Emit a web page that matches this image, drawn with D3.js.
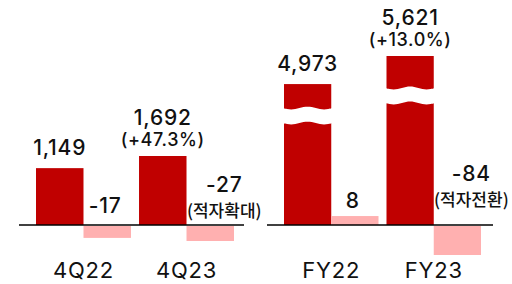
<!DOCTYPE html>
<html>
<head>
<meta charset="utf-8">
<script src="https://cdn.jsdelivr.net/npm/d3@7"></script>
<style>
  body { margin: 0; background: #fff; }
  text { font-family: Inter, "Noto Sans", sans-serif; fill: #111; }
  .note { font-family: "Noto Sans CJK KR", sans-serif; }
</style>
</head>
<body>
<div id="chart"></div>
<script>
/**
 * DATA
 * */
const quarterLabels = ["4Q22", "4Q23"];
const quarterRevenue = [1149, 1692];
const quarterProfit = [-17, -27];
const quarterGrowth = [null, 47.3];
const quarterNote = [null, "(적자확대)"];

const yearLabels = ["FY22", "FY23"];
const yearRevenue = [4973, 5621];
const yearProfit = [8, -84];
const yearGrowth = [null, 13.0];
const yearNote = [null, "(적자전환)"];

/**
 * CONSTANTS
 * */
const width = 512,
  height = 284,
  zeroY = 225;
const red = "#c00000",
  pink = "#ffb0b0";

const svg = d3.select("#chart")
  .append("svg")
  .attr("width", width)
  .attr("height", height);

// layout per panel (left: quarters, right: full years w/ broken bars)
const panels = [
  {
    labels: quarterLabels, revenue: quarterRevenue, profit: quarterProfit,
    growth: quarterGrowth, note: quarterNote,
    range: [36, 234], line: [19, 244], noteLift: 8,
    yRev: d3.scaleSqrt().domain([0, 1692]).range([zeroY, 156]),
    hProfit: d3.scaleSqrt().domain([0, 27]).range([0, 15]),
    breaks: null
  },
  {
    labels: yearLabels, revenue: yearRevenue, profit: yearProfit,
    growth: yearGrowth, note: yearNote,
    range: [284, 481], line: [267, 493], noteLift: 19,
    // axis is broken, so the scale doesn't start at zero
    yRev: d3.scaleLinear().domain([1720, 5621]).range([zeroY, 56]),
    hProfit: d3.scaleSqrt().domain([0, 84]).range([0, 29]),
    breaks: [24, 32] // px below the bar top where the wavy cut sits
  }
];

// plain hyphen for negatives, like the slide
const fmt = v => d3.format(",")(v).replace("\u2212", "-");

panels.forEach(p => {
  const x = d3.scaleBand()
    .domain(p.labels)
    .range(p.range)
    .paddingInner(0.078);
  const sub = d3.scaleBand()
    .domain(["rev", "op"])
    .range([0, x.bandwidth()]);

  const g = svg.append("g");
  const rows = p.labels.map((d, i) => ({
    label: d, rev: p.revenue[i], op: p.profit[i],
    growth: p.growth[i], note: p.note[i]
  }));

  // revenue bars
  g.selectAll("rect.rev")
    .data(rows)
    .join("rect")
    .attr("class", "rev")
    .attr("x", d => x(d.label) + sub("rev"))
    .attr("width", sub.bandwidth())
    .attr("y", d => p.yRev(d.rev))
    .attr("height", d => zeroY - p.yRev(d.rev))
    .attr("fill", red);

  // operating profit bars
  g.selectAll("rect.op")
    .data(rows)
    .join("rect")
    .attr("class", "op")
    .attr("x", d => x(d.label) + sub("op"))
    .attr("width", sub.bandwidth())
    .attr("y", d => d.op >= 0 ? zeroY - p.hProfit(d.op) : zeroY + 1)
    .attr("height", d => p.hProfit(Math.abs(d.op)))
    .attr("fill", pink);

  // wavy break on the big bars
  if (p.breaks) {
    const wave = (x0, x1, y) => d3.range(0, 13).map(k => {
      const xx = x0 + (x1 - x0) * k / 12;
      return [xx, y + 1.6 * Math.sin((k / 12) * Math.PI * 3)];
    });
    g.selectAll("path.brk")
      .data(rows)
      .join("path")
      .attr("class", "brk")
      .attr("fill", "#fff")
      .attr("d", (d, i) => {
        const x0 = x(d.label) + sub("rev") - 1,
          x1 = x0 + sub.bandwidth() + 2,
          y = p.yRev(d.rev) + p.breaks[i];
        const top = wave(x0, x1, y),
          bot = wave(x0, x1, y + 15).reverse();
        return d3.line().curve(d3.curveBasis)(top) + "L" +
          d3.line().curve(d3.curveBasis)(bot).slice(1) + "Z";
      });
  }

  // zero line
  g.append("line")
    .attr("x1", p.line[0]).attr("x2", p.line[1])
    .attr("y1", zeroY).attr("y2", zeroY)
    .attr("stroke", "#000")
    .attr("stroke-width", 1.5);

  // revenue labels (+ growth)
  rows.forEach(d => {
    const cx = x(d.label) + sub("rev") + sub.bandwidth() / 2,
      top = p.yRev(d.rev);
    if (d.growth != null) {
      g.append("text")
        .attr("x", cx).attr("y", top - 10)
        .attr("text-anchor", "middle")
        .attr("font-size", 18)
        .attr("font-weight", 500)
        .attr("letter-spacing", 0.6)
        .text(`(+${d.growth.toFixed(1)}%)`);
      g.append("text")
        .attr("x", cx).attr("y", top - 31)
        .attr("text-anchor", "middle")
        .attr("font-size", 21)
        .attr("font-weight", 500)
        .attr("letter-spacing", 0.8)
        .text(fmt(d.rev));
    } else {
      g.append("text")
        .attr("x", cx).attr("y", top - 13)
        .attr("text-anchor", "middle")
        .attr("font-size", 21)
        .attr("font-weight", 500)
        .attr("letter-spacing", 0.8)
        .text(fmt(d.rev));
    }
  });

  // profit labels (+ note)
  rows.forEach(d => {
    const cx = x(d.label) + sub("op") + sub.bandwidth() / 2;
    const base = d.op >= 0 ? zeroY - p.hProfit(d.op) : zeroY;
    if (d.note) {
      g.append("text")
        .attr("class", "note")
        .attr("x", cx + 14).attr("y", base - p.noteLift)
        .attr("text-anchor", "middle")
        .attr("font-size", 17)
        .attr("font-weight", 500)
        .text(d.note);
      g.append("text")
        .attr("x", cx + 14).attr("y", base - p.noteLift - 25)
        .attr("text-anchor", "middle")
        .attr("font-size", 21)
        .attr("font-weight", 500)
        .attr("letter-spacing", 0.8)
        .text(fmt(d.op));
    } else {
      g.append("text")
        .attr("x", cx - 2).attr("y", base - (d.op >= 0 ? 8 : 12))
        .attr("text-anchor", "middle")
        .attr("font-size", 21)
        .attr("font-weight", 500)
        .attr("letter-spacing", 0.8)
        .text(fmt(d.op));
    }
  });

  // category labels
  g.selectAll("text.cat")
    .data(rows)
    .join("text")
    .attr("class", "cat")
    .attr("x", d => x(d.label) + x.bandwidth() / 2)
    .attr("y", 278)
    .attr("text-anchor", "middle")
    .attr("font-size", 22)
    .attr("letter-spacing", 0.8)
    .text(d => d.label);
});
</script>
</body>
</html>
